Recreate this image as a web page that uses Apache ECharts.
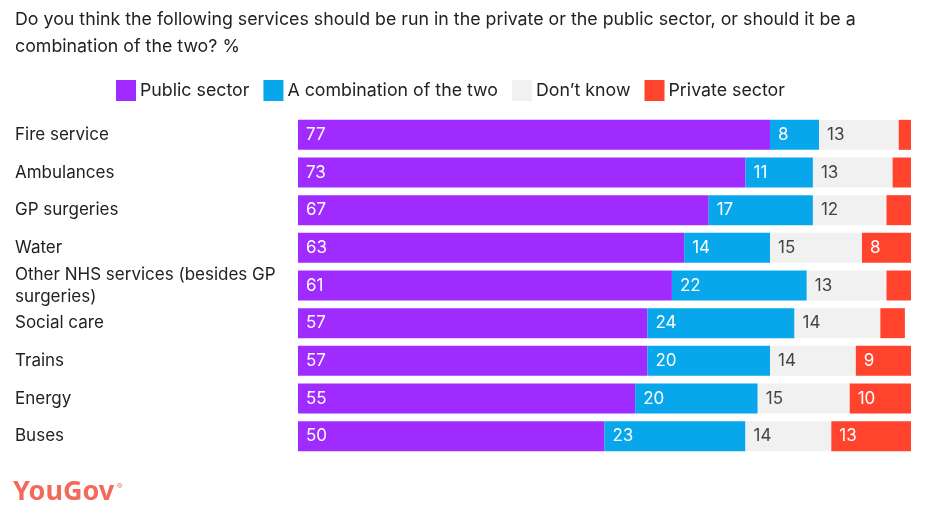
<!DOCTYPE html>
<html><head><meta charset="utf-8">
<script src="https://cdn.jsdelivr.net/npm/echarts@6/dist/echarts.min.js"></script>
<style>html,body{margin:0;padding:0;background:#fff}#c{width:940px;height:517px}</style>
</head><body><div id="c"></div>
<script>
const categories = ["Fire service","Ambulances","GP surgeries","Water","Other NHS services (besides GP surgeries)","Social care","Trains","Energy","Buses"];
const publicSector = [77,73,67,63,61,57,57,55,50];
const combination = [8,11,17,14,22,24,20,20,23];
const dontKnow = [13,13,12,15,13,14,14,15,14];
const privateSector = [2,3,4,8,4,4,9,10,13];
const seriesNames = ["Public sector","A combination of the two","Don\u2019t know","Private sector"];
const colors = ["#a02bff","#08a6eb","#f1f1f1","#ff432d"];

const FONT = "Inter, 'Noto Sans', sans-serif";
const chart = echarts.init(document.getElementById('c'));
function mk(name, data, color, labelColor, minShow){
  return {
    name, type:'bar', stack:'t', data, barWidth:30,
    itemStyle:{color},
    label:{show:true, position:'insideLeft', distance:8, color:labelColor, fontFamily:FONT, fontSize:17,
      formatter:p=> p.value>=minShow ? String(p.value) : ''}
  };
}
chart.setOption({
  animation:false,
  title:{text:"Do you think the following services should be run in the private or the public sector, or should it be a\ncombination of the two? %",
    left:15, top:6, padding:0, textStyle:{fontFamily:FONT, fontSize:17.8, fontWeight:'normal', color:'#222', lineHeight:27}},
  legend:{left:116, top:80, padding:0, itemWidth:20, itemHeight:21, itemGap:14, icon:'rect',
    textStyle:{fontFamily:FONT, fontSize:17.8, color:'#222', padding:[0,0,0,-1]},
    data:seriesNames},
  grid:{left:298, right:29, top:116, bottom:62},
  xAxis:{type:'value', min:0, max:100, show:false},
  yAxis:{type:'category', inverse:true, data:categories,
    axisLine:{show:false}, axisTick:{show:false},
    axisLabel:{align:'left', margin:283, width:275, overflow:'break', color:'#222', fontFamily:FONT, fontSize:17, lineHeight:22}},
  series:[
    mk(seriesNames[0], publicSector, colors[0], '#fff', 5),
    mk(seriesNames[1], combination, colors[1], '#fff', 5),
    mk(seriesNames[2], dontKnow, colors[2], '#444', 5),
    mk(seriesNames[3], privateSector, colors[3], '#fff', 8)
  ],
  graphic:[
    {type:'text', left:13, top:479, style:{text:'YouGov', fontFamily:"'Noto Sans', 'DejaVu Sans', sans-serif", fontWeight:'bold', fontSize:27, fill:'#f36a5c', letterSpacing:-1}},
    {type:'text', left:117, top:483, style:{text:'\u00ae', fontFamily:FONT, fontSize:8, fill:'#f36a5c'}}
  ]
});
</script></body></html>
